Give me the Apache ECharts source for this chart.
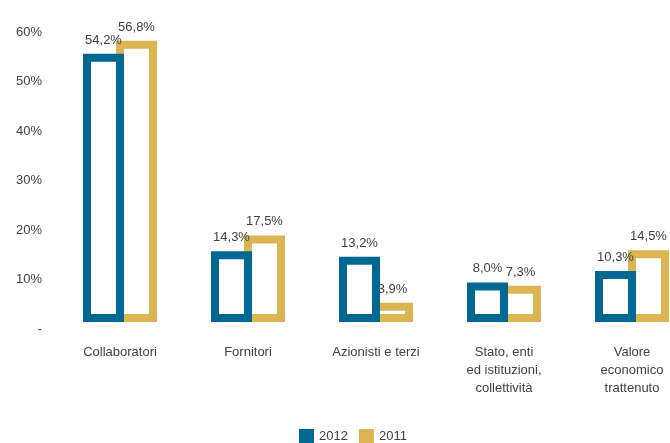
<!DOCTYPE html>
<html>
<head>
<meta charset="utf-8">
<script src="https://cdn.jsdelivr.net/npm/echarts@6/dist/echarts.min.js"></script>
<style>
html,body{margin:0;padding:0;background:#fff;}
#chart{width:670px;height:443px;}
</style>
</head>
<body>
<div id="chart"></div>
<script>
var categories = ['Collaboratori', 'Fornitori', 'Azionisti e terzi', 'Stato, enti\ned istituzioni,\ncollettività', 'Valore\neconomico\ntrattenuto'];
var values2012 = [54.2, 14.3, 13.2, 8.0, 10.3];
var values2011 = [56.8, 17.5, 3.9, 7.3, 14.5];
var seriesNames = ['2012', '2011'];
var colors = ['#006892', '#dbb551'];

var chart = echarts.init(document.getElementById('chart'), null, {renderer: 'canvas'});
var font = 'Liberation Sans, Arial, sans-serif';
var txt = '#404040';
function fmt(p) { return p.value.toFixed(1).replace('.', ',') + '%'; }

function barSeries(name, data, color, z) {
  return {
    name: name, type: 'bar', data: data, z: z,
    barWidth: 41, barGap: '-19.5%',
    itemStyle: {color: '#ffffff', borderColor: color, borderWidth: 8},
    label: {show: true, position: 'top', distance: 7, color: txt, fontSize: 13, fontFamily: font, formatter: fmt}
  };
}

chart.setOption({
  animation: false,
  textStyle: {fontFamily: font},
  color: colors,
  grid: {left: 56, width: 640, top: 25, bottom: 121, outerBoundsMode: 'none', containLabel: false},
  legend: {
    data: [
      {name: seriesNames[0], itemStyle: {color: colors[0], borderWidth: 0}},
      {name: seriesNames[1], itemStyle: {color: colors[1], borderWidth: 0}}
    ],
    left: 299, top: 429, padding: 0,
    itemWidth: 15, itemHeight: 14, itemGap: 11,
    icon: 'rect',
    textStyle: {color: txt, fontSize: 13, fontFamily: font}
  },
  xAxis: {
    type: 'category',
    data: categories,
    axisLine: {show: false},
    axisTick: {show: false},
    axisLabel: {color: txt, fontSize: 13, fontFamily: font, margin: 21, lineHeight: 18, interval: 0}
  },
  yAxis: {
    type: 'value',
    min: 0, max: 60, interval: 10,
    splitLine: {show: false},
    axisLine: {show: false},
    axisTick: {show: false},
    axisLabel: {
      color: txt, fontSize: 13, fontFamily: font, margin: 14,
      verticalAlign: 'top', lineHeight: 14,
      formatter: function (v) { return v === 0 ? '-' : v + '%'; }
    }
  },
  series: [
    barSeries(seriesNames[0], values2012, colors[0], 3),
    barSeries(seriesNames[1], values2011, colors[1], 2)
  ]
});
</script>
</body>
</html>
